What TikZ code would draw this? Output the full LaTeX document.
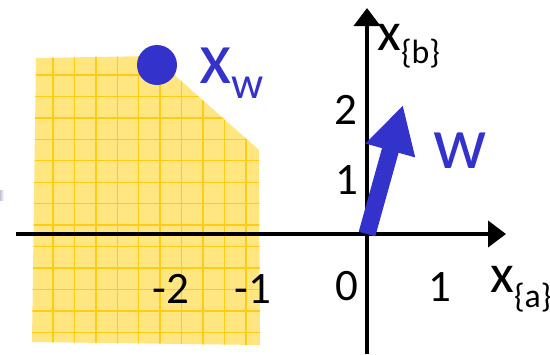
\documentclass[tikz,border=0pt]{standalone}
\usepackage{fontspec}
\setmainfont{Carlito}
\usetikzlibrary{arrows.meta}
\definecolor{wblue}{RGB}{51,51,204}
\definecolor{regionfill}{RGB}{255,230,128}
\definecolor{regiongrid}{RGB}{255,204,20}
\begin{document}
\begin{tikzpicture}[
        axis/.style={-{Triangle[length=4.5mm,width=6.5mm]}, line width=1mm},
        tick/.style={font=\fontsize{32}{32}\selectfont, inner sep=0pt},
        varlabel/.style={inner sep=0pt, anchor=base west},
        wvec/.style={-{Triangle[length=11.8mm,width=12mm]}, line width=4.3mm, wblue}
    ]
    \useasboundingbox (-9.175,-3) rectangle (4.575,5.85);
    % feasible region
    \begin{scope}
        \clip (-8.275,4.4) -- (-5.35,4.45) -- (-2.7,2.1) -- (-2.675,-2.775) -- (-8.375,-2.7) -- cycle;
        \fill[regionfill] (-8.5,-3) rectangle (-2.5,4.6);
        \foreach \i in {0,...,9}
            \draw[regiongrid, line width=1pt] (-7.85+0.536*\i,4.6) -- ++(0,-7.6);
        \foreach \j in {0,...,12}
            \draw[regiongrid, line width=1pt] (-8.5,3.975-0.536*\j) -- ++(6,0);
    \end{scope}
    \shade[left color=blue!15!gray!40, right color=white] (-9.175,0.85) rectangle (-9.075,1.1);

    \coordinate (o) at (0,0);
    \coordinate (xfrom) at (-8.775,0);
    \coordinate (xto) at (3.475,0);
    \coordinate (yfrom) at (0,-3);
    \coordinate (yto) at (0,5.65);
    \coordinate (wtip) at (0.9,3.225);
    \draw[axis] (xfrom) -- (xto);
    \draw[axis] (yfrom) -- (yto);
    \draw[wvec] (o) -- (wtip);

    \node[circle, fill=wblue, minimum size=1cm, inner sep=0pt] (xw) at (-5.25,4.225) {};
    \node[varlabel, text=wblue] (xwlabel) at (-4.2,3.775)
        {\fontsize{53}{53}\selectfont x\raisebox{-0.375cm}{\fontsize{32}{32}\selectfont w}};
    \node[varlabel, text=wblue] (wlabel) at (1.65,1.65) {\fontsize{53}{53}\selectfont w};

    \node[tick] (xm2) at (-4.9,-1.375) {-2};
    \node[tick] (xm1) at (-2.85,-1.375) {-1};
    \node[tick] (x0) at (-0.5,-1.3) {0};
    \node[tick] (x1) at (1.825,-1.325) {1};
    \node[tick] (y1) at (-0.5,1.35) {1};
    \node[tick] (y2) at (-0.525,3.1) {2};
    \node[varlabel] (xalabel) at (3.075,-1.45)
        {\fontsize{39}{39}\selectfont x\raisebox{-0.375cm}{\fontsize{24}{24}\selectfont\{a\}}};
    \node[varlabel] (xblabel) at (0.25,4.6)
        {\fontsize{39}{39}\selectfont x\raisebox{-0.325cm}{\fontsize{24}{24}\selectfont\{b\}}};
\end{tikzpicture}
\end{document}
